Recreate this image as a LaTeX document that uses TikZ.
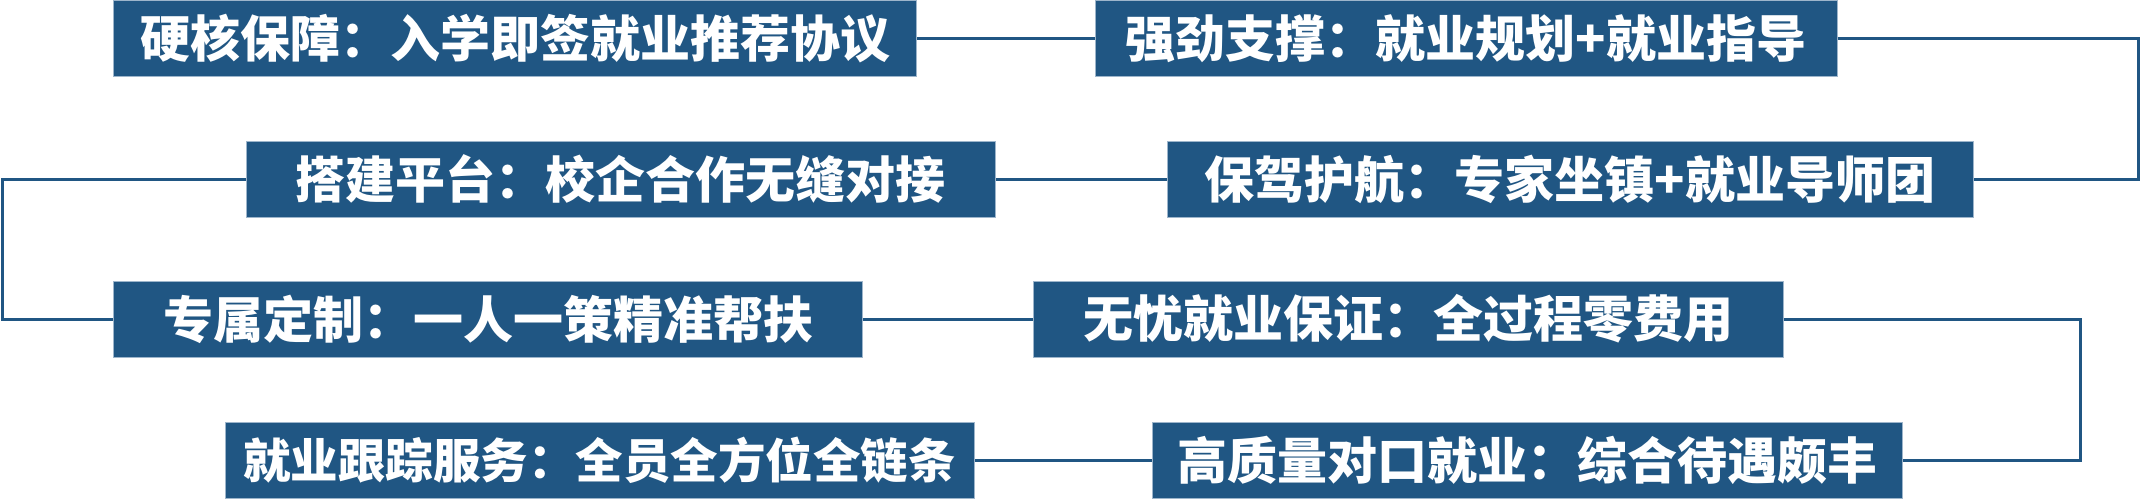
\documentclass[tikz,border=0pt]{standalone}
\usepackage{fontspec}
\newfontfamily\cjk{Noto Sans CJK SC}
\definecolor{boxfill}{HTML}{205683}
\definecolor{boxline}{HTML}{9DB5CB}
\definecolor{conn}{HTML}{205683}
\tikzset{
  stepbox/.style={rectangle, fill=boxfill, draw=boxline, line width=1pt,
    inner sep=0pt, minimum height=76pt, text=white,
    font=\cjk\bfseries\fontsize{50}{60}\selectfont},
  smalltext/.style={font=\cjk\bfseries\fontsize{47.5}{60}\selectfont},
  link/.style={draw=conn, line width=3pt, line join=miter}
}
\begin{document}
\begin{tikzpicture}[x=1pt,y=-1pt]
\useasboundingbox (0,0) rectangle (2141,498);
\node[stepbox, minimum width=803pt] (b1) at (515.25,38.5) {硬核保障：入学即签就业推荐协议};
\node[stepbox, minimum width=742pt] (b2) at (1466,38.5) {强劲支撑：就业规划+就业指导};
\node[stepbox, minimum width=749pt] (b3) at (620.5,179) {搭建平台：校企合作无缝对接};
\node[stepbox, minimum width=806pt] (b4) at (1570,179) {保驾护航：专家坐镇+就业导师团};
\node[stepbox, minimum width=749pt] (b5) at (488.25,319) {专属定制：一人一策精准帮扶};
\node[stepbox, minimum width=750pt] (b6) at (1408,319) {无忧就业保证：全过程零费用};
\node[stepbox, smalltext, minimum width=749pt] (b7) at (599.5,460) {就业跟踪服务：全员全方位全链条};
\node[stepbox, minimum width=750pt] (b8) at (1527,460) {高质量对口就业：综合待遇颇丰};
\coordinate (r1) at (2138,108);
\coordinate (l1) at (2.5,249);
\coordinate (r2) at (2080,389);
\draw[link] (b1.east) -- (b2.west);
\draw[link] (b2.east) -| (r1) |- (b4.east);
\draw[link] (b4.west) -- (b3.east);
\draw[link] (b3.west) -| (l1) |- (b5.west);
\draw[link] (b5.east) -- (b6.west);
\draw[link] (b6.east) -| (r2) |- (b8.east);
\draw[link] (b8.west) -- (b7.east);
\end{tikzpicture}
\end{document}
